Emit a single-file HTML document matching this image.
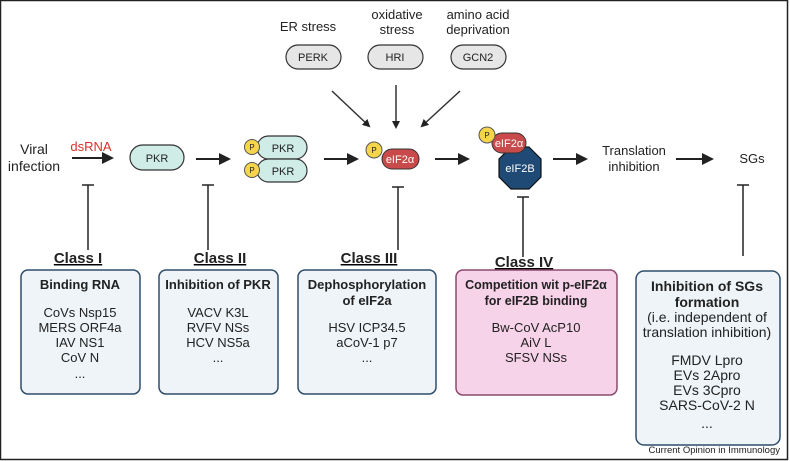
<!DOCTYPE html>
<html><head><meta charset="utf-8"><style>
body{margin:0;width:790px;height:461px;overflow:hidden;background:#fff}
svg{display:block}
text{font-family:"Liberation Sans",sans-serif;fill:#222}
.b{font-weight:bold}
</style></head><body>
<svg width="790" height="461" viewBox="0 0 790 461">
<defs><marker id="a" markerWidth="8" markerHeight="8" refX="6" refY="4" orient="auto" markerUnits="userSpaceOnUse"><path d="M0,0 L8,4 L0,8 z" fill="#222"/></marker>
<marker id="A" markerWidth="12" markerHeight="12" refX="10" refY="6" orient="auto" markerUnits="userSpaceOnUse"><path d="M0,0 L12,6 L0,12 z" fill="#222"/></marker></defs>
<rect x="0.5" y="0.5" width="787" height="459" fill="#fff" stroke="#222" stroke-width="1.5"/>
<text x="308" y="31" font-size="13" text-anchor="middle">ER stress</text>
<text x="397" y="19" font-size="13" text-anchor="middle">oxidative</text>
<text x="397" y="34" font-size="13" text-anchor="middle">stress</text>
<text x="478" y="19" font-size="13" text-anchor="middle">amino acid</text>
<text x="478" y="34" font-size="13" text-anchor="middle">deprivation</text>
<g fill="#e6e6e6" stroke="#333" stroke-width="1.2">
<rect x="286" y="45" width="55" height="24" rx="12"/>
<rect x="368" y="45" width="55" height="24" rx="12"/>
<rect x="451" y="45" width="55" height="24" rx="12"/>
</g>
<text x="313" y="61" font-size="11" text-anchor="middle">PERK</text>
<text x="395" y="61" font-size="11" text-anchor="middle">HRI</text>
<text x="478" y="61" font-size="11" text-anchor="middle">GCN2</text>
<g stroke="#333" stroke-width="1.5" fill="none" marker-end="url(#a)">
<line x1="332" y1="91" x2="369" y2="126"/>
<line x1="396" y1="85" x2="396" y2="127"/>
<line x1="460" y1="91" x2="422" y2="126"/>
</g>
<text x="34" y="154" font-size="14" text-anchor="middle">Viral</text>
<text x="34" y="171" font-size="14" text-anchor="middle">infection</text>
<text x="91" y="151" font-size="13" text-anchor="middle" style="fill:#d9302c">dsRNA</text>
<g stroke="#222" stroke-width="2" marker-end="url(#A)">
<line x1="72" y1="158" x2="112" y2="158"/>
<line x1="196" y1="159" x2="229" y2="159"/>
<line x1="324" y1="159" x2="357" y2="159"/>
<line x1="435" y1="159" x2="468" y2="159"/>
<line x1="553" y1="159" x2="586" y2="159"/>
<line x1="676" y1="159" x2="712" y2="159"/>
</g>
<rect x="130" y="145" width="54" height="25" rx="12.5" fill="#cfece7" stroke="#333" stroke-width="1.2"/>
<text x="157" y="162" font-size="11" text-anchor="middle">PKR</text>
<rect x="257" y="136" width="50" height="23" rx="11.5" fill="#cfece7" stroke="#333" stroke-width="1.2"/>
<rect x="257" y="159" width="50" height="23" rx="11.5" fill="#cfece7" stroke="#333" stroke-width="1.2"/>
<text x="283" y="152" font-size="11" text-anchor="middle">PKR</text>
<text x="283" y="175" font-size="11" text-anchor="middle">PKR</text>
<g fill="#f5d64a" stroke="#555" stroke-width="1">
<circle cx="252" cy="147" r="7.5"/><circle cx="252" cy="170" r="7.5"/>
</g>
<text x="252" y="150" font-size="8" text-anchor="middle">P</text>
<text x="252" y="173" font-size="8" text-anchor="middle">P</text>
<rect x="382" y="149" width="37" height="20" rx="10" fill="#c84a4a" stroke="#333" stroke-width="1"/>
<text x="400" y="163" font-size="11" text-anchor="middle" style="fill:#fff">eIF2α</text>
<circle cx="374" cy="150" r="8" fill="#f5d64a" stroke="#555"/>
<text x="374" y="153" font-size="8" text-anchor="middle">P</text>
<polygon points="529,147 541,159 541,177 529,189 511,189 499,177 499,159 511,147" fill="#1f4a75" stroke="#111" stroke-width="1.2"/>
<text x="520" y="172" font-size="11" text-anchor="middle" style="fill:#fff">eIF2B</text>
<rect x="492" y="133" width="34" height="20" rx="10" fill="#c84a4a" stroke="#333" stroke-width="1"/>
<text x="509" y="147" font-size="11" text-anchor="middle" style="fill:#fff">eIF2α</text>
<circle cx="487" cy="135" r="8" fill="#f5d64a" stroke="#555"/>
<text x="487" y="138" font-size="8" text-anchor="middle">P</text>
<text x="634" y="155" font-size="13" text-anchor="middle">Translation</text>
<text x="634" y="171" font-size="13" text-anchor="middle">inhibition</text>
<text x="752" y="163" font-size="13" text-anchor="middle">SGs</text>
<g stroke="#222" stroke-width="1.5">
<line x1="88" y1="185" x2="88" y2="250"/><line x1="82" y1="185" x2="94" y2="185"/>
<line x1="208" y1="185" x2="208" y2="250"/><line x1="202" y1="185" x2="214" y2="185"/>
<line x1="398" y1="187" x2="398" y2="250"/><line x1="392" y1="187" x2="404" y2="187"/>
<line x1="523" y1="197" x2="523" y2="257"/><line x1="517" y1="197" x2="529" y2="197"/>
<line x1="743" y1="185" x2="743" y2="256"/><line x1="737" y1="185" x2="749" y2="185"/>
</g>
<g font-size="15" text-anchor="middle" text-decoration="underline">
<text x="78" y="263" class="b">Class I</text>
<text x="220" y="263" class="b">Class II</text>
<text x="369" y="263" class="b">Class III</text>
<text x="524" y="267" class="b">Class IV</text>
</g>
<g stroke="#2f4d6b" stroke-width="1.5" fill="#eef4f8">
<rect x="21" y="270" width="119" height="124" rx="7"/>
<rect x="159" y="270" width="119" height="124" rx="7"/>
<rect x="298" y="270" width="138" height="124" rx="7"/>
<rect x="636" y="271" width="144" height="174" rx="8"/>
</g>
<rect x="456" y="270" width="161" height="125" rx="7" fill="#f7d3ea" stroke="#8b4a6e" stroke-width="1.5"/>
<g font-size="13" text-anchor="middle">
<text x="80" y="289" class="b">Binding RNA</text>
<text x="80" y="317">CoVs Nsp15</text><text x="80" y="332">MERS ORF4a</text><text x="80" y="347">IAV NS1</text><text x="80" y="362">CoV N</text><text x="80" y="378">...</text>
<text x="218" y="289" class="b">Inhibition of PKR</text>
<text x="218" y="317">VACV K3L</text><text x="218" y="332">RVFV NSs</text><text x="218" y="347">HCV NS5a</text><text x="218" y="362">...</text>
<text x="367" y="289" class="b">Dephosphorylation</text><text x="367" y="305" class="b">of eIF2a</text>
<text x="367" y="332">HSV ICP34.5</text><text x="367" y="347">aCoV-1 p7</text><text x="367" y="362">...</text>
<text x="536" y="289" class="b" font-size="12.5">Competition wit p-eIF2α</text><text x="536" y="305" class="b" font-size="12.5">for eIF2B binding</text>
<text x="536" y="332">Bw-CoV AcP10</text><text x="536" y="347">AiV L</text><text x="536" y="362">SFSV NSs</text>
</g>
<g font-size="14" text-anchor="middle">
<text x="707" y="291" class="b">Inhibition of SGs</text><text x="707" y="307" class="b">formation</text>
<text x="707" y="322">(i.e. independent of</text><text x="707" y="337">translation inhibition)</text>
<text x="707" y="365">FMDV Lpro</text><text x="707" y="380">EVs 2Apro</text><text x="707" y="395">EVs 3Cpro</text><text x="707" y="410">SARS-CoV-2 N</text><text x="707" y="428">...</text>
</g>
<text x="780" y="453" font-size="9.5" text-anchor="end">Current Opinion in Immunology</text>
</svg>
</body></html>
